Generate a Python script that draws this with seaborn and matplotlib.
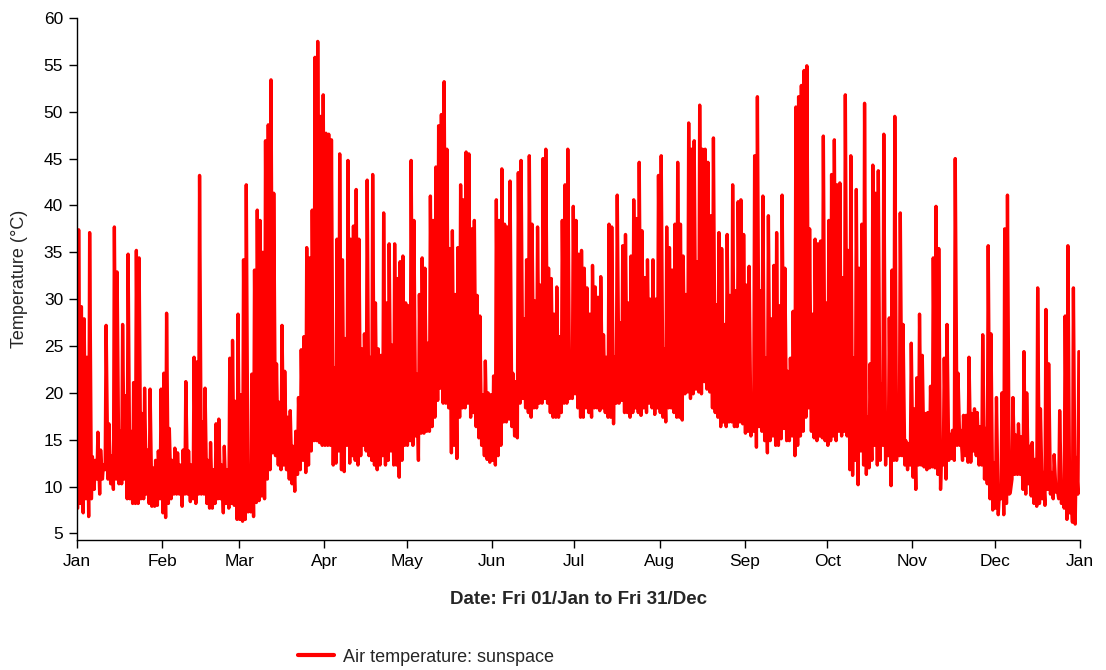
import matplotlib
matplotlib.use("Agg")
import matplotlib.pyplot as plt
import numpy as np
import pandas as pd
import seaborn as sns

# ---- data (daily min / max, degC) ----
month_labels = ["Jan", "Feb", "Mar", "Apr", "May", "Jun", "Jul", "Aug",
                "Sep", "Oct", "Nov", "Dec", "Jan"]
month_starts = [0, 31, 59, 90, 120, 151, 181, 212, 243, 273, 304, 334, 365]
y_ticks = [5, 10, 15, 20, 25, 30, 35, 40, 45, 50, 55, 60]

jan_min = [7.7, 8.2, 7.2, 8.7, 6.8, 8.7, 9.7, 10.8, 9.2, 10.8, 11.8, 10.8, 10.3, 9.7, 10.8, 10.3,
           10.3, 10.8, 8.7, 8.7, 8.2, 8.2, 8.2, 8.7, 8.7, 9.2, 8.2, 7.9, 7.9, 8.0, 8.7]
feb_min = [7.2, 6.7, 8.2, 8.7, 9.2, 9.2, 9.2, 7.9, 9.2, 9.2, 8.4, 8.7, 8.2, 9.2, 9.2, 9.2,
           8.2, 7.7, 7.7, 8.2, 8.7, 8.7, 7.2, 8.2, 7.7, 8.2, 8.0, 6.5]
mar_min = [6.5, 6.3, 6.5, 7.3, 7.3, 6.8, 8.3, 8.5, 9.0, 8.7, 10.8, 11.8, 13.6, 13.3, 12.3, 11.8,
           12.3, 11.8, 10.8, 10.3, 9.5, 11.3, 11.8, 12.8, 11.5, 12.3, 13.8, 14.9, 14.9, 14.7, 14.4]
apr_min = [14.4, 14.4, 14.4, 12.3, 12.5, 13.8, 11.8, 11.6, 14.4, 12.5, 13.3, 12.8, 12.3, 13.3, 14.4,
           13.8, 13.3, 12.8, 12.3, 11.8, 12.3, 13.3, 12.3, 12.8, 13.8, 12.3, 12.3, 11.0, 12.8, 14.4]
may_min = [14.4, 14.9, 14.4, 15.4, 12.8, 15.7, 15.7, 15.9, 15.9, 16.4, 17.4, 19.2, 20.5, 18.9, 18.9,
           18.4, 13.6, 14.4, 13.0, 17.4, 18.4, 18.4, 18.9, 17.4, 17.9, 16.4, 15.2, 14.4, 13.3, 12.9, 12.6]
jun_min = [12.8, 12.3, 13.3, 14.4, 16.9, 16.9, 17.2, 16.4, 15.4, 15.2, 18.9, 19.4, 18.4, 17.9, 17.4,
           18.4, 18.4, 18.9, 18.9, 19.4, 18.9, 17.9, 17.4, 17.4, 17.4, 17.9, 18.9, 18.9, 19.4, 19.4]
jul_min = [19.9, 18.4, 17.4, 17.4, 18.4, 17.9, 17.4, 18.4, 18.4, 18.1, 18.4, 17.9, 17.4, 17.4, 16.7,
           18.9, 18.9, 19.2, 17.9, 17.9, 17.4, 17.9, 18.4, 17.9, 17.6, 18.4, 17.9, 18.9, 18.4, 17.7, 18.4]
aug_min = [17.9, 17.4, 16.9, 18.4, 18.4, 17.9, 17.4, 17.4, 17.1, 19.9, 20.1, 19.4, 19.9, 20.4, 20.1,
           19.9, 21.2, 20.4, 20.1, 18.4, 17.9, 17.4, 16.4, 16.9, 16.4, 16.9, 16.9, 16.4, 16.4, 16.9, 16.7]
sep_min = [15.7, 15.9, 15.4, 15.9, 14.2, 16.4, 15.9, 14.9, 13.6, 14.9, 15.4, 14.4, 14.4, 15.1, 16.2,
           14.9, 14.9, 15.4, 13.3, 14.4, 15.4, 15.9, 17.4, 18.4, 15.9, 15.2, 14.9, 15.4, 15.2, 14.9]
oct_min = [14.4, 14.9, 15.4, 14.9, 15.9, 15.4, 15.9, 15.4, 11.8, 11.2, 12.8, 10.2, 13.8, 12.3, 11.3,
           12.0, 12.8, 14.4, 12.3, 12.8, 14.4, 12.3, 13.3, 10.1, 12.8, 12.8, 13.3, 13.3, 12.3, 11.8, 12.3]
nov_min = [11.0, 9.7, 12.3, 12.3, 12.1, 11.8, 12.0, 12.1, 12.0, 11.3, 9.7, 12.3, 10.8, 12.8, 13.0,
           12.8, 14.4, 14.4, 12.8, 13.3, 12.6, 12.6, 13.8, 13.3, 12.3, 12.3, 10.8, 10.3, 8.7, 7.5]
dec_min = [7.7, 7.0, 8.7, 7.0, 8.2, 9.2, 10.8, 11.3, 11.3, 11.3, 9.7, 9.2, 10.3, 9.0, 8.2, 7.9,
           8.2, 8.7, 8.0, 9.7, 9.2, 8.7, 9.4, 8.7, 8.2, 7.7, 6.5, 7.2, 6.2, 6.0, 9.2]

jan_max = [37.4, 29.2, 27.9, 23.8, 37.1, 13.2, 12.8, 15.8, 13.9, 12.3, 27.2, 16.7, 13.3, 37.7, 32.9, 15.9,
           27.3, 19.7, 34.8, 15.9, 21.1, 35.2, 34.4, 17.8, 20.5, 13.9, 20.4, 12.0, 12.8, 13.8, 20.4]
feb_max = [22.1, 28.5, 16.2, 12.8, 14.1, 13.6, 12.3, 13.9, 21.2, 13.8, 12.3, 23.8, 23.3, 43.2, 16.9, 20.5,
           12.8, 14.7, 11.8, 16.7, 17.2, 12.3, 14.3, 11.8, 23.7, 25.6, 19.1, 28.4]
mar_max = [19.8, 34.2, 42.2, 12.1, 22.0, 33.1, 39.5, 38.4, 35.0, 46.9, 48.6, 53.4, 41.3, 23.1, 19.0, 27.2,
           22.3, 17.4, 18.1, 14.3, 15.9, 19.5, 24.6, 26.0, 35.5, 34.4, 39.5, 55.8, 57.5, 49.5, 51.8]
apr_max = [47.7, 47.6, 47.0, 22.7, 36.4, 45.5, 34.2, 25.8, 44.8, 36.4, 37.8, 41.7, 36.4, 24.7, 26.3,
           42.7, 23.8, 43.3, 29.6, 24.7, 24.0, 39.2, 29.6, 35.9, 25.1, 35.9, 32.2, 34.0, 34.6, 29.6]
may_max = [29.3, 44.8, 38.4, 22.0, 30.5, 34.4, 33.3, 25.3, 41.0, 38.4, 44.1, 48.5, 49.7, 53.2, 46.0,
           35.4, 37.3, 30.5, 35.5, 42.2, 40.6, 45.7, 45.5, 37.5, 38.4, 30.4, 28.2, 19.8, 23.4, 20.0, 19.8]
jun_max = [21.8, 40.6, 38.4, 43.9, 38.0, 37.7, 42.6, 22.1, 21.2, 43.5, 44.8, 27.9, 34.2, 45.3, 38.0,
           29.8, 37.7, 31.5, 45.0, 46.0, 33.3, 32.2, 28.4, 31.3, 26.0, 38.4, 42.2, 46.0, 20.2, 39.9]
jul_max = [38.4, 34.8, 35.2, 33.3, 31.2, 28.4, 33.6, 31.3, 30.2, 32.4, 26.2, 23.8, 38.0, 37.7, 23.8,
           41.1, 27.5, 35.7, 36.9, 29.6, 34.6, 40.6, 38.6, 44.6, 37.3, 32.3, 34.2, 30.0, 34.2, 30.0, 43.2]
aug_max = [45.3, 24.7, 37.7, 35.5, 33.1, 38.0, 44.6, 38.0, 34.6, 30.5, 48.8, 46.0, 46.9, 34.0, 50.7,
           46.0, 46.0, 44.6, 38.9, 47.2, 29.4, 37.1, 35.4, 27.3, 36.9, 30.4, 42.2, 30.9, 40.4, 40.6, 36.9]
sep_max = [31.5, 33.5, 19.6, 45.3, 51.6, 30.9, 41.0, 23.7, 38.9, 27.9, 33.6, 37.1, 29.3, 41.1, 33.3,
           22.3, 23.7, 28.7, 50.5, 51.6, 52.8, 54.4, 54.9, 37.5, 28.4, 36.4, 35.9, 36.2, 47.4, 29.6]
oct_max = [38.4, 43.3, 47.0, 42.2, 42.4, 32.3, 51.8, 35.2, 45.3, 23.7, 41.7, 33.3, 38.0, 50.9, 17.4,
           23.1, 44.3, 41.3, 43.7, 20.9, 47.6, 17.6, 28.0, 33.1, 49.5, 19.3, 39.2, 27.3, 14.9, 14.6, 25.3]
nov_max = [18.3, 21.6, 28.4, 24.0, 17.8, 17.9, 20.7, 34.4, 39.9, 35.4, 13.2, 23.7, 27.3, 15.6, 16.0,
           45.0, 22.1, 16.0, 17.6, 17.6, 23.8, 17.8, 18.3, 17.9, 16.4, 26.2, 16.2, 35.7, 26.3, 12.5]
dec_max = [19.5, 9.0, 20.0, 37.5, 41.1, 9.3, 19.5, 15.5, 16.7, 15.3, 24.4, 20.0, 14.3, 14.7, 12.9,
           31.2, 18.3, 11.5, 28.9, 23.1, 11.5, 13.4, 10.0, 18.1, 9.8, 28.2, 35.7, 11.1, 31.2, 13.1, 24.4]

series_name = "Air temperature: sunspace"

# ---- assemble ----
daily_min = (jan_min + feb_min + mar_min + apr_min + may_min + jun_min +
             jul_min + aug_min + sep_min + oct_min + nov_min + dec_min)
daily_max = (jan_max + feb_max + mar_max + apr_max + may_max + jun_max +
             jul_max + aug_max + sep_max + oct_max + nov_max + dec_max)

xs, ys = [], []
for d, (lo, hi) in enumerate(zip(daily_min, daily_max)):
    xs += [d + 0.25, d + 0.6]
    ys += [lo, hi]
df = pd.DataFrame({"day": xs, "temp": ys, "series": series_name})

# ---- plot ----
sns.set_style("ticks")
plt.rcParams["font.family"] = ["Liberation Sans", "DejaVu Sans"]

W, H = 1106, 670
fig = plt.figure(figsize=(W / 100, H / 100), dpi=100)
ax = fig.add_axes([77 / W, 1 - 540 / H, (1080 - 77) / W, (540 - 18) / H])

sns.lineplot(data=df, x="day", y="temp", estimator=None, sort=False,
             color="#ff0000", linewidth=2.4, ax=ax, legend=False)

ax.set_xlim(0, 365)
ax.set_ylim(4.3, 60)
ax.set_xticks(month_starts)
ax.set_xticklabels(month_labels)
ax.set_yticks(y_ticks)
ax.tick_params(axis="both", direction="out", length=6, width=1, colors="black",
               labelsize=12.5, pad=4)
for s in ["top", "right"]:
    ax.spines[s].set_visible(False)
for s in ["left", "bottom"]:
    ax.spines[s].set_linewidth(1)
    ax.spines[s].set_color("black")

ax.set_ylabel("Temperature (°C)", fontsize=13)
ax.yaxis.set_label_coords(-0.049, 0.5)
ax.set_xlabel("Date: Fri 01/Jan to Fri 31/Dec", fontsize=13.5, fontweight="bold")
ax.xaxis.set_label_coords(0.5, -0.097)

handle = plt.Line2D([], [], color="#ff0000", linewidth=3)
fig.legend([handle], [series_name], loc="center left",
           bbox_to_anchor=(298 / W, 1 - 657 / H), frameon=False, fontsize=13,
           handlelength=2.0, handletextpad=0.5, borderpad=0, borderaxespad=0)

fig.savefig("out.png", dpi=100, facecolor="white")
